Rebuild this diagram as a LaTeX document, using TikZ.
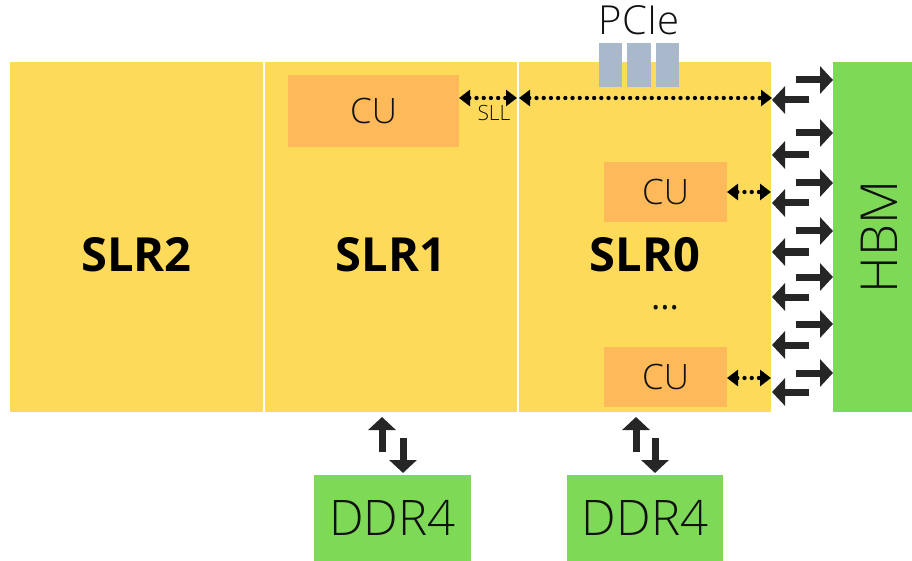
\documentclass[tikz,border=0pt]{standalone}
\usepackage{fontspec}
\setmainfont{Open Sans}
\newfontfamily\lightfont{Open Sans}[UprightFont=* Light]
\usetikzlibrary{arrows.meta}

\definecolor{slryellow}{HTML}{FDDA5A}
\definecolor{cuorange}{HTML}{FDB95A}
\definecolor{memgreen}{HTML}{7ED957}
\definecolor{pciegray}{HTML}{A9B8CB}
\definecolor{arrowdark}{HTML}{262626}
\definecolor{ink}{HTML}{111111}

\tikzset{
  block/.style={draw=none, inner sep=0pt, outer sep=0pt, anchor=center},
  slrbox/.style={block, fill=slryellow},
  cubox/.style={block, fill=cuorange, text=ink, font=\lightfont\fontsize{35}{40}\selectfont},
  membox/.style={block, fill=memgreen, text=ink},
  pciepin/.style={block, fill=pciegray, minimum width=23.5pt, minimum height=44pt},
  slrlabel/.style={inner sep=0pt, font=\bfseries\fontsize{47}{52}\selectfont, text=black},
  bigarrow/.style={draw=arrowdark, line width=7pt, -{Triangle[length=13pt,width=27pt]}},
  dotarrow/.style={draw=black, line width=4.3pt, line cap=round, dash pattern=on 0pt off 7.2pt,
    {Triangle[length=11pt,width=16pt]}-{Triangle[length=11pt,width=16pt]}}
}

\begin{document}
\begin{tikzpicture}[x=1pt, y=-1pt]
  \useasboundingbox (0,0) rectangle (912,561);

  % super logic regions
  \node[slrbox, minimum width=253pt, minimum height=350pt] (slr2) at (136.5,237) {};
  \node[slrbox, minimum width=252pt, minimum height=350pt] (slr1) at (391,237) {};
  \node[slrbox, minimum width=252pt, minimum height=350pt] (slr0) at (645,237) {};
  \node[slrlabel] (slr2lbl) at (136.5,255) {SLR2};
  \node[slrlabel] (slr1lbl) at (391,255) {SLR1};
  \node[slrlabel] (slr0lbl) at (645,255) {SLR0};

  % compute units
  \node[cubox, minimum width=171pt, minimum height=72pt] (cu1) at (373.5,111) {CU};
  \node[cubox, minimum width=123pt, minimum height=60pt] (cu2) at (665.5,192) {CU};
  \node[cubox, minimum width=123pt, minimum height=60pt] (cu3) at (665.5,377) {CU};
  \node[inner sep=0pt, anchor=base, text=ink, font=\fontsize{35}{40}\selectfont] (dots) at (665,309) {...};

  % PCIe connector
  \node[pciepin] (pin1) at (610.5,65) {};
  \node[pciepin] (pin2) at (639,65) {};
  \node[pciepin] (pin3) at (667.5,65) {};
  \node[inner sep=0pt, text=ink, font=\lightfont\fontsize{40}{44}\selectfont] (pcie) at (639,20.5) {PCIe};

  % memories
  \node[membox, minimum width=79pt, minimum height=350pt] (hbm) at (872.5,237) {};
  \node[inner sep=0pt, rotate=90, text=ink, font=\lightfont\fontsize{51}{56}\selectfont] (hbmlbl) at (879,237) {HBM};
  \node[membox, minimum width=157pt, minimum height=86pt, font=\lightfont\fontsize{49}{54}\selectfont] (ddr1) at (392.5,518) {DDR4};
  \node[membox, minimum width=156pt, minimum height=86pt, font=\lightfont\fontsize{49}{54}\selectfont] (ddr0) at (645,518) {DDR4};

  % super long lines
  \draw[dotarrow] (cu1.east |- 0,98) -- (slr1.east |- 0,98);
  \node[inner sep=0pt, text=ink, font=\lightfont\fontsize{21}{25}\selectfont] (sll) at (494,113.5) {SLL};
  \draw[dotarrow] (slr0.west |- 0,98) -- ([xshift=1pt]slr0.east |- 0,98);
  \draw[dotarrow] (cu2.east) -- (slr0.east |- cu2.east);
  \draw[dotarrow] ([yshift=-1pt]cu3.east) -- ([yshift=-1pt]slr0.east |- cu3.east);

  % HBM channels
  \foreach \yy in {80,133,183,231,277,324,373}
    \draw[bigarrow] (hbm.west |- 0,\yy) ++(-37,0) -- (hbm.west |- 0,\yy);
  \foreach \yy in {100,155,203,252,297,345,392}
    \draw[bigarrow] (slr0.east |- 0,\yy) ++(38,0) -- ++(-37,0);

  % DDR4 channels
  \draw[bigarrow] ([xshift=-10.5pt,yshift=23pt]ddr1.north) -- ([xshift=-10.5pt,yshift=-5pt]ddr1.north |- slr1.south);
  \draw[bigarrow] ([xshift=10.5pt,yshift=-26pt]ddr1.north |- slr1.south) -- ([xshift=10.5pt,yshift=2pt]ddr1.north);
  \draw[bigarrow] ([xshift=-9pt,yshift=23pt]ddr0.north) -- ([xshift=-9pt,yshift=-5pt]ddr0.north |- slr0.south);
  \draw[bigarrow] ([xshift=10pt,yshift=-26pt]ddr0.north |- slr0.south) -- ([xshift=10pt,yshift=2pt]ddr0.north);
\end{tikzpicture}
\end{document}
